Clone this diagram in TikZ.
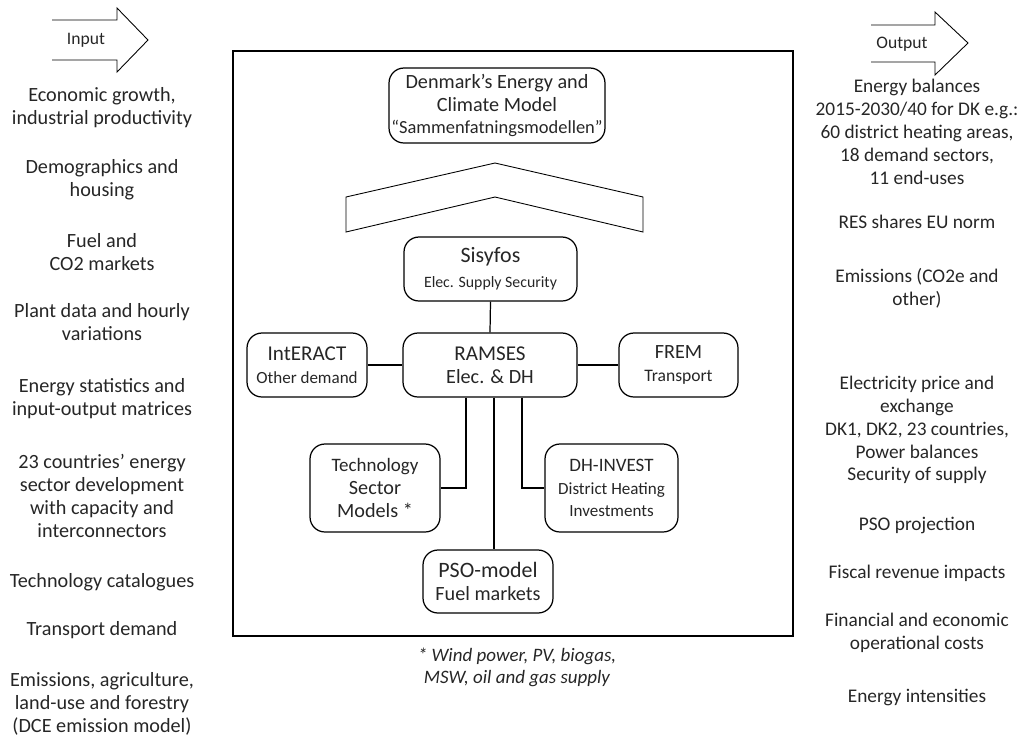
\documentclass[tikz,border=0pt]{standalone}
\usepackage{fontspec}
\setmainfont{Carlito}
\newcommand{\subtxt}{\fontsize{9.7}{12}\selectfont}
\newcommand{\bigtxt}{\fontsize{12.5}{15}\selectfont}
\begin{document}
\begin{tikzpicture}[x=0.02cm, y=-0.02cm, line width=0.5pt, font=\fontsize{11.5}{13}\selectfont,
  txt/.style={align=center, inner sep=0pt, text=black!85},
  box/.style={draw, rounded corners=8.5pt, align=center, inner sep=1pt, line width=0.7pt, text=black!85},
  link/.style={line width=0.7pt}]
  \useasboundingbox (0,0) rectangle (1025,738);
  % input / output arrows
  \draw (52,20) -- (117,20) -- (117,8) -- (148,40) -- (117,72) -- (117,60) -- (52,60);
  \draw (871,25) -- (935,25) -- (935,12) -- (968,43) -- (935,75) -- (935,62) -- (871,62);
  \node[txt, font=\fontsize{10}{12}\selectfont] (inp) at (86,40) {Input};
  \node[txt, font=\fontsize{10}{12}\selectfont] (outp) at (902,44) {Output};
  % inputs
  \node[txt] (in1) at (102,107.5) {Economic growth,\\industrial productivity};
  \node[txt] (in2) at (102,180) {Demographics and\\housing};
  \node[txt] (in3) at (102,252) {Fuel and\\CO2 markets};
  \node[txt] (in4) at (102,322) {Plant data and hourly\\variations};
  \node[txt] (in5) at (102,399) {Energy statistics and\\input-output matrices};
  \node[txt] (in6) at (102,496) {23 countries’ energy\\sector development\\with capacity and\\interconnectors};
  \node[txt] (in7) at (102,582) {Technology catalogues};
  \node[txt] (in8) at (102,630) {Transport demand};
  \node[txt] (in9) at (102,704) {Emissions, agriculture,\\land-use and forestry\\(DCE emission model)};
  % outputs
  \begin{scope}[font=\fontsize{11}{13}\selectfont]
  \node[txt] (out1) at (917,132) {Energy balances\\2015-2030/40 for DK e.g.:\\60 district heating areas,\\18 demand sectors,\\11 end-uses};
  \node[txt] (out2) at (917,222) {RES shares EU norm};
  \node[txt] (out3) at (917,288) {Emissions (CO2e and\\other)};
  \node[txt] (out4) at (917,430) {Electricity price and\\exchange\\DK1, DK2, 23 countries,\\Power balances\\Security of supply};
  \node[txt] (out5) at (917,525) {PSO projection};
  \node[txt] (out6) at (917,573) {Fiscal revenue impacts};
  \node[txt] (out7) at (917,633) {Financial and economic\\operational costs};
  \node[txt] (out8) at (917,697) {Energy intensities};
  \end{scope}
  % model frame
  \draw[line width=1pt] (233,51) rectangle (793,636);
  \node[box, minimum width=4.32cm, minimum height=1.5cm] (dk) at (497,105.5)
    {Denmark’s Energy and\\Climate Model\\{\fontsize{10.5}{12}\selectfont“Sammenfatningsmodellen”}};
  \draw (346,197) -- (495,163) -- (643,197) -- (643,232) -- (495,197) -- (346,232) -- cycle;
  \node[box, minimum width=3.46cm, minimum height=1.28cm] (sis) at (490.5,269)
    {\bigtxt Sisyfos\\[1pt]{\fontsize{9}{11}\selectfont Elec. Supply Security}};
  \node[box, minimum width=3.48cm, minimum height=1.28cm] (ram) at (490,365)
    {\fontsize{12}{15}\selectfont RAMSES\\Elec. \& DH};
  \node[box, minimum width=2.4cm, minimum height=1.28cm] (int) at (307,365)
    {\fontsize{12}{14}\selectfont IntERACT\\\subtxt Other demand};
  \node[box, minimum width=2.38cm, minimum height=1.28cm] (frem) at (678.5,365)
    {\fontsize{11.5}{14}\selectfont FREM\\\fontsize{10}{12}\selectfont Transport};
  \node[box, minimum width=2.6cm, minimum height=1.76cm] (tech) at (375,488)
    {\fontsize{10.8}{13}\selectfont Technology\\Sector\\Models *};
  \node[box, minimum width=2.66cm, minimum height=1.76cm] (dh) at (611.5,488)
    {\fontsize{10.8}{13}\selectfont DH-INVEST\\\subtxt District Heating\\\subtxt Investments};
  \node[box, minimum width=2.6cm, minimum height=1.26cm] (pso) at (488,581.5)
    {\fontsize{12.5}{15}\selectfont PSO-model\\Fuel markets};
  \draw[link] (sis.south) -- (ram.north);
  \draw[link] (int.east) -- (ram.west);
  \draw[link] (ram.east) -- (frem.west);
  \draw[link] ([xshift=-0.48cm]ram.south) |- (tech.east);
  \draw[link] ([xshift=0.64cm]ram.south) |- (dh.west);
  \draw[link] ([xshift=0.08cm]ram.south) -- ([xshift=0.08cm]ram.south |- pso.north);
  \node[txt, font=\fontsize{10.8}{12.5}\selectfont\itshape] (note) at (517,667) {* Wind power, PV, biogas,\\MSW, oil and gas supply};
\end{tikzpicture}
\end{document}
